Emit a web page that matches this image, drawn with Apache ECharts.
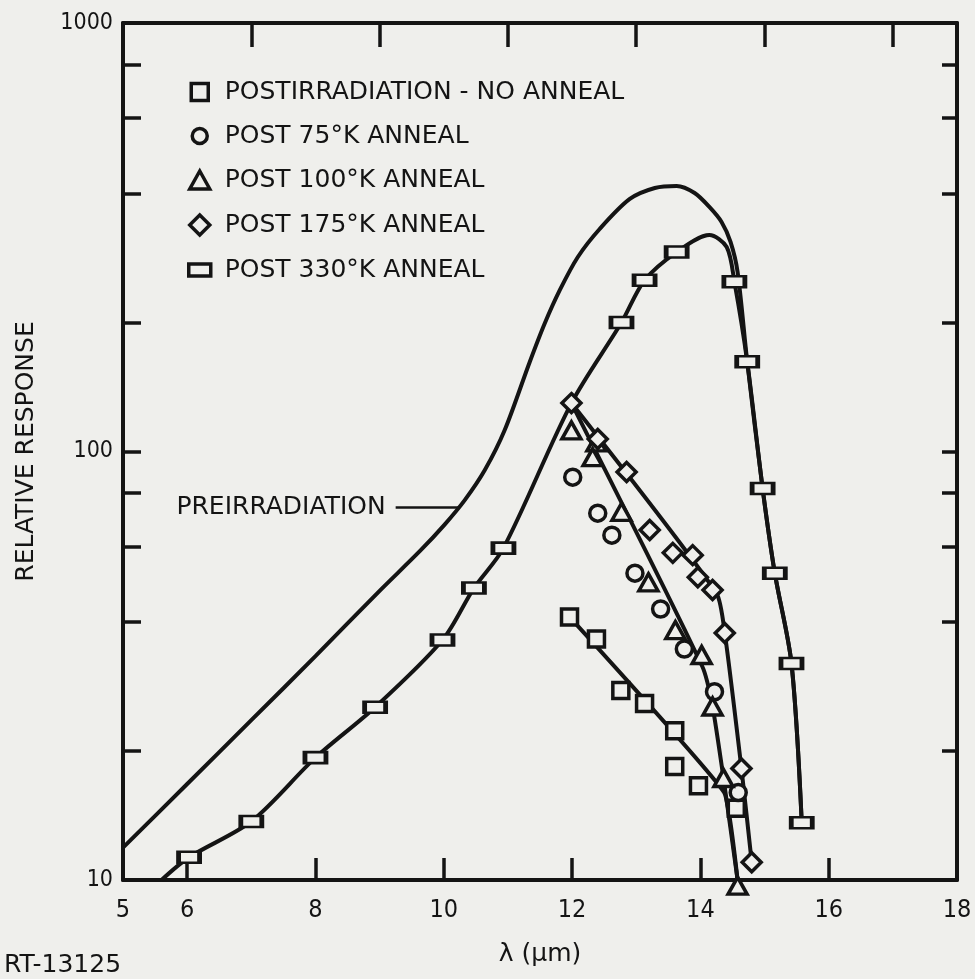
<!DOCTYPE html>
<html>
<head>
<meta charset="utf-8">
<script src="https://cdn.jsdelivr.net/npm/echarts@6/dist/echarts.min.js"></script>
<style>
  html, body { margin: 0; padding: 0; background: #efefec; }
  #chart { width: 975px; height: 979px; }
</style>
</head>
<body>
<div id="chart"></div>
<script>
// Axis ticks and labels
const xLabelValues = [5, 6, 8, 10, 12, 14, 16, 18];
const xTicksBottom = [6, 8, 10, 12, 14, 16];
const xTicksTop = [7, 9, 11, 13, 15, 17];
const yLabelValues = [10, 100, 1000];
const yTickValues = [20, 40, 60, 80, 100, 200, 400, 600, 800];

// Legend names
const nameNoAnneal = 'POSTIRRADIATION - NO ANNEAL';
const name75 = 'POST 75°K ANNEAL';
const name100 = 'POST 100°K ANNEAL';
const name175 = 'POST 175°K ANNEAL';
const name330 = 'POST 330°K ANNEAL';

// Measured points: [wavelength (µm), relative response]
const noAnnealPoints = [[11.96, 41.1], [12.38, 36.5], [12.76, 27.7], [13.13, 25.8], [13.60, 22.3], [13.60, 18.4], [13.97, 16.6], [14.56, 14.7]];
const anneal75Points = [[12.01, 87.1], [12.40, 71.8], [12.62, 63.8], [12.98, 52.0], [13.38, 42.9], [13.75, 34.6], [14.22, 27.5], [14.59, 16.0]];
const anneal100Points = [[11.99, 112], [12.38, 105], [12.32, 97], [12.77, 72.3], [13.19, 49.5], [13.61, 38.3], [14.02, 33.5], [14.19, 25.4], [14.36, 17.3], [14.58, 9.7]];
const anneal175Points = [[11.99, 129.7], [12.40, 107], [12.85, 89.6], [13.21, 65.6], [13.57, 58.0], [13.88, 57.3], [13.96, 50.9], [14.19, 47.5], [14.38, 37.7], [14.64, 18.2], [14.80, 11.0]];
const anneal330Points = [[6.03, 11.3], [7.0, 13.7], [8.0, 19.3], [8.93, 25.3], [9.98, 36.3], [10.47, 48.0], [10.93, 59.5], [12.77, 200], [13.13, 251], [13.63, 292], [14.53, 249], [14.73, 162], [14.97, 82], [15.16, 52], [15.42, 32], [15.58, 13.6]];

// Drawn curves: [wavelength (µm), relative response]
const preirradiationCurve = [
  [5.0, 11.9], [6.0, 16.75], [7.0, 23.6], [8.0, 33.3], [9.0, 47.3], [9.63, 58.6], [10.02, 67.7],
  [10.33, 77.1], [10.64, 90.5], [10.95, 112.2], [11.34, 161.8], [11.57, 198.4], [11.81, 238.2],
  [12.09, 284.4], [12.43, 330.6], [12.90, 388.5], [13.29, 412.1], [13.63, 416.6], [13.91, 401.1],
  [14.14, 372.1], [14.33, 343.2], [14.47, 308.3], [14.58, 262.3],
  [14.73, 162], [14.97, 82], [15.16, 52], [15.42, 32], [15.58, 13.6]
];
const anneal330Curve = [[5.6, 10], [6.03, 11.3], [7.0, 13.7], [8.0, 19.3], [8.93, 25.3], [9.98, 36.3], [10.47, 48.0], [10.93, 59.5], [11.99, 129.7], [12.77, 200], [13.13, 251], [13.63, 292], [14.14, 320], [14.41, 300], [14.53, 249], [14.73, 162], [14.97, 82], [15.16, 52], [15.42, 32], [15.58, 13.6]];
const noAnnealCurve = [[11.96, 41.1], [14.37, 16.0], [14.58, 10]];
const anneal100Curve = [[11.99, 129.7], [14.03, 31.5], [14.19, 25.4], [14.36, 17.3], [14.58, 10]];
const anneal175Curve = [[11.99, 129.7], [14.25, 46.7], [14.38, 37.7], [14.64, 18.2], [14.80, 11.0]];

// Arrow annotation for the preirradiation curve: [tail, head]
const preirradiationArrow = [[9.25, 74], [10.25, 74]];

const FONT = '"DejaVu Sans", sans-serif';
const NUM_FONT = '"DejaVu Sans Condensed", "DejaVu Sans", sans-serif';
const INK = '#141414';
const PAPER = '#efefec';

const chart = echarts.init(document.getElementById('chart'), null, { renderer: 'canvas' });

const textBase = { color: INK, fontFamily: FONT };
const numBase = { color: INK, fontFamily: NUM_FONT };

function curveSeries(name, data, extra) {
  return Object.assign({
    name: name,
    type: 'line',
    data: data,
    symbol: 'none',
    smooth: 0.3,
    silent: true,
    z: 2,
    lineStyle: { color: INK, width: 4 }
  }, extra || {});
}

function markerSeries(name, data, symbol, size) {
  return {
    name: name,
    type: 'scatter',
    data: data,
    symbol: symbol,
    symbolSize: size,
    clip: false,
    silent: true,
    z: 3,
    itemStyle: { color: PAPER, borderColor: INK, borderWidth: 3.5, opacity: 1 }
  };
}

const legendRows = [
  { name: nameNoAnneal, w: 17, h: 17 },
  { name: name75, w: 15, h: 15 },
  { name: name100, w: 20, h: 18 },
  { name: name175, w: 20, h: 20 },
  { name: name330, w: 22, h: 12 }
];
const legendCenters = [92, 136, 180, 225, 270];

const legends = legendRows.map((row, i) => ({
  data: [row.name],
  orient: 'vertical',
  left: 198 - row.w / 2,
  top: legendCenters[i] - 15,
  padding: 0,
  itemWidth: row.w,
  itemHeight: row.h,
  selectedMode: false,
  itemStyle: { color: PAPER, borderColor: INK, borderWidth: 3.5 },
  textStyle: Object.assign({ fontSize: 25, lineHeight: 30, padding: [0, 0, 0, 223 - (198 + row.w / 2) - 5] }, textBase)
}));

const option = {
  backgroundColor: PAPER,
  animation: false,
  title: {
    text: 'RT-13125',
    left: 4,
    top: 953,
    padding: 0,
    textStyle: Object.assign({ fontSize: 25, fontWeight: 'normal' }, textBase)
  },
  legend: legends,
  grid: { left: 123, right: 18, top: 23, bottom: 99, containLabel: false },
  xAxis: [
    {
      type: 'value', min: 5, max: 18, position: 'bottom',
      axisLine: { lineStyle: { color: INK, width: 4 } },
      axisTick: { inside: true, length: 22, customValues: xTicksBottom, lineStyle: { color: INK, width: 3.5 } },
      axisLabel: Object.assign({ customValues: xLabelValues, fontSize: 25, margin: 18 }, numBase),
      splitLine: { show: false },
      name: 'λ (μm)', nameLocation: 'middle', nameGap: 62,
      nameTextStyle: Object.assign({ fontSize: 25 }, textBase)
    },
    {
      type: 'value', min: 5, max: 18, position: 'top',
      axisLine: { lineStyle: { color: INK, width: 4 } },
      axisTick: { inside: true, length: 24, customValues: xTicksTop, lineStyle: { color: INK, width: 3.5 } },
      axisLabel: { show: false },
      splitLine: { show: false }
    }
  ],
  yAxis: [
    {
      type: 'log', logBase: 10, min: 10, max: 1000, position: 'left',
      axisLine: { lineStyle: { color: INK, width: 4 } },
      axisTick: { inside: true, length: 18, customValues: yTickValues, lineStyle: { color: INK, width: 3.5 } },
      axisLabel: Object.assign({ customValues: yLabelValues, fontSize: 23, margin: 10, formatter: v => String(Math.round(v)) }, numBase),
      splitLine: { show: false },
      name: 'RELATIVE RESPONSE', nameLocation: 'middle', nameGap: 84, nameRotate: 90,
      nameTextStyle: Object.assign({ fontSize: 25 }, textBase)
    },
    {
      type: 'log', logBase: 10, min: 10, max: 1000, position: 'right',
      axisLine: { lineStyle: { color: INK, width: 4 } },
      axisTick: { inside: true, length: 15, customValues: yTickValues, lineStyle: { color: INK, width: 3.5 } },
      axisLabel: { show: false },
      splitLine: { show: false }
    }
  ],
  series: [
    curveSeries('PREIRRADIATION', preirradiationCurve, {
      markLine: {
        silent: true,
        symbol: ['none', 'arrow'],
        symbolSize: [0, 13],
        lineStyle: { color: INK, width: 2.5, type: 'solid' },
        label: Object.assign({ show: true, position: 'start', formatter: 'PREIRRADIATION', fontSize: 25, distance: 10 }, textBase),
        data: [[{ coord: preirradiationArrow[0] }, { coord: preirradiationArrow[1] }]]
      }
    }),
    curveSeries(name330 + ' curve', anneal330Curve),
    curveSeries(nameNoAnneal + ' curve', noAnnealCurve, { smooth: 0.1 }),
    curveSeries(name100 + ' curve', anneal100Curve, { smooth: 0.2 }),
    curveSeries(name175 + ' curve', anneal175Curve, { smooth: 0.2 }),
    markerSeries(nameNoAnneal, noAnnealPoints, 'rect', 16),
    markerSeries(name75, anneal75Points, 'circle', 16),
    markerSeries(name100, anneal100Points, 'triangle', [19, 17]),
    markerSeries(name175, anneal175Points, 'diamond', 19),
    markerSeries(name330, anneal330Points, 'rect', [21, 11])
  ]
};

chart.setOption(option);
</script>
</body>
</html>
